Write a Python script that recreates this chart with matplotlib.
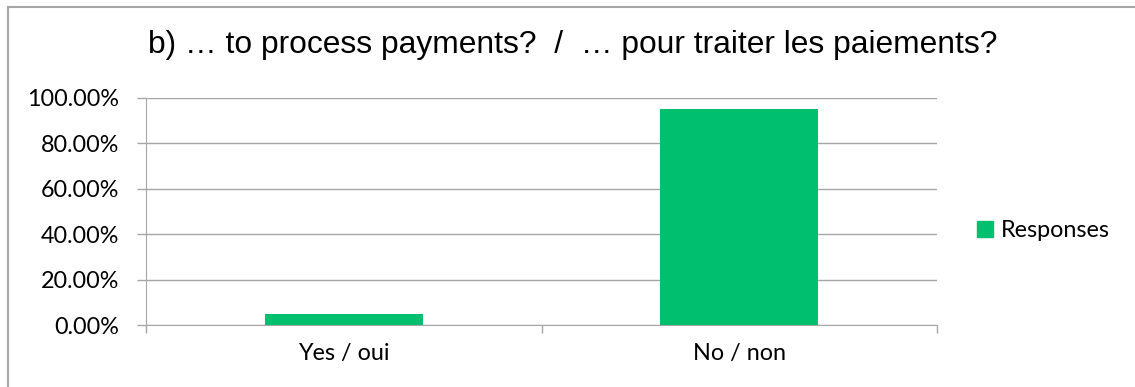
import matplotlib.pyplot as plt
from matplotlib.lines import Line2D
from matplotlib.ticker import FuncFormatter

categories = ['Yes / oui', 'No / non']
responses = [4.76, 95.24]
yticks = [0, 20, 40, 60, 80, 100]

green = '#00bf6f'
grey = '#a6a6a6'

fig = plt.figure(figsize=(11.35, 3.87), dpi=100)
ax = fig.add_axes([146 / 1135, 1 - 325 / 387, (937 - 146) / 1135, (325 - 98) / 387])

x = range(len(categories))
ax.bar(x, responses, width=0.4, color=green, zorder=3, label='Responses')

ax.set_xlim(-0.5, len(categories) - 0.5)
ax.set_ylim(0, 100)
ax.set_yticks(yticks)
ax.yaxis.set_major_formatter(FuncFormatter(lambda v, p: f'{v:.2f}%'))
ax.grid(axis='y', color=grey, linewidth=1, zorder=0)

# category labels in the middle, tick marks on the boundaries
ax.set_xticks([i - 0.5 for i in range(len(categories) + 1)])
ax.set_xticklabels([])
ax.set_xticks(list(x), minor=True)
ax.set_xticklabels(categories, minor=True, fontsize=16.8, family='Lato')
ax.tick_params(axis='x', which='major', length=6, color=grey, width=1)
ax.tick_params(axis='x', which='minor', length=0, pad=13)
ax.tick_params(axis='y', length=6.5, color=grey, width=1, labelsize=16.8, pad=13)
for lbl in ax.get_yticklabels():
    lbl.set_family('Lato')

for side in ['top', 'right']:
    ax.spines[side].set_visible(False)
ax.spines['left'].set_color(grey)
ax.spines['bottom'].set_color(grey)

fig.text(0.505, 0.885, 'b) \u2026 to process payments?  /  \u2026 pour traiter les paiements?',
         ha='center', va='center', fontsize=22.9, family='Liberation Sans')

handles = [Line2D([], [], marker='s', linestyle='', markersize=11, color=green)]
fig.legend(handles, ['Responses'], loc='center left', bbox_to_anchor=(0.847, 0.405),
           frameon=False, prop={'family': 'Lato', 'size': 16.8}, handletextpad=-0.3,
           borderaxespad=0, borderpad=0)

# chart frame (left and top edges)
fig.add_artist(Line2D([8 / 1135, 8 / 1135], [0, 1 - 7 / 387], color=grey, lw=1.5))
fig.add_artist(Line2D([8 / 1135, 1], [1 - 7 / 387, 1 - 7 / 387], color=grey, lw=1.5))

fig.savefig('out.png', dpi=100)
